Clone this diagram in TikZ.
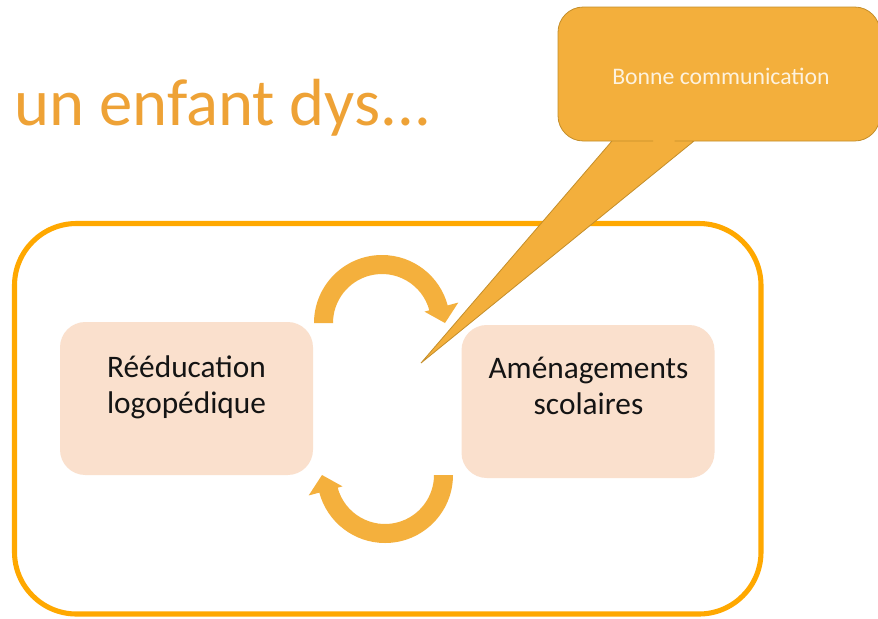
\documentclass[tikz,border=0pt]{standalone}
\usepackage{fontspec}
\setmainfont{Carlito}
\usetikzlibrary{calc}
\definecolor{titleor}{RGB}{238,162,54}
\definecolor{frameor}{RGB}{255,168,0}
\definecolor{arrowor}{RGB}{244,176,61}
\definecolor{boxfill}{RGB}{250,224,205}
\definecolor{callfill}{RGB}{243,175,60}
\definecolor{callline}{RGB}{196,142,42}
\definecolor{calltext}{RGB}{253,242,222}
\definecolor{boxtext}{RGB}{20,20,20}
\begin{document}
\begin{tikzpicture}[x=0.75pt,y=-0.75pt,
  framebox/.style={draw=frameor,line width=3.8pt,rounded corners=46.5pt},
  stagebox/.style={fill=boxfill,rounded corners=19pt,minimum width=189.75pt,minimum height=114.75pt,inner sep=0pt},
  stagetext/.style={anchor=base,align=center,text=boxtext,font=\fontsize{23.5}{27}\selectfont,inner sep=0pt},
  cyclearrow/.style={fill=arrowor},
  callout/.style={fill=callfill,draw=callline,line width=0.6pt,line join=miter}]
\useasboundingbox (0,0) rectangle (878,618);
\fill[white] (0,0) rectangle (878,618);
\node[anchor=base west,inner sep=0pt,text=titleor,font=\fontsize{50}{60}\selectfont] (title) at (14,125) {un enfant dys...};
\draw[framebox] (14.5,223.5) rectangle (761,614);
\node[stagebox] (reedbox) at (186.5,398.5) {};
\node[stagebox] (amenbox) at (588,401.5) {};
\node[stagetext] (reed) at (186.5,413) {Rééducation\\logopédique};
\node[stagetext] (amen) at (588.5,414) {Aménagements\\scolaires};
\coordinate (c1) at (382,323);
\coordinate (c2) at (385,475);
\fill[cyclearrow] ($(c1)+(180:68)$) arc[start angle=180,end angle=345,radius=68]
  -- ($(c1)+(345:79)$) -- ($(c1)+(0:63)$) -- ($(c1)+(345:44)$) -- ($(c1)+(345:49)$)
  arc[start angle=345,end angle=180,radius=49] -- cycle;
\fill[cyclearrow] ($(c2)+(0:68)$) arc[start angle=0,end angle=165,radius=68]
  -- ($(c2)+(165:79)$) -- ($(c2)+(180:63)$) -- ($(c2)+(165:44)$) -- ($(c2)+(165:49)$)
  arc[start angle=165,end angle=0,radius=49] -- cycle;
\coordinate (tip) at (421,363);
\filldraw[callout] (653,141) [rounded corners=19pt] -- (558,141) -- (558,7) -- (880,7) -- (880,141)
  -- (700,141) [sharp corners] -- (694,141) -- (tip) -- (612,141) -- cycle;
\node[text=calltext,font=\fontsize{17.8}{21}\selectfont,inner sep=0pt] (comm) at (721,76) {Bonne communication};
\end{tikzpicture}
\end{document}
